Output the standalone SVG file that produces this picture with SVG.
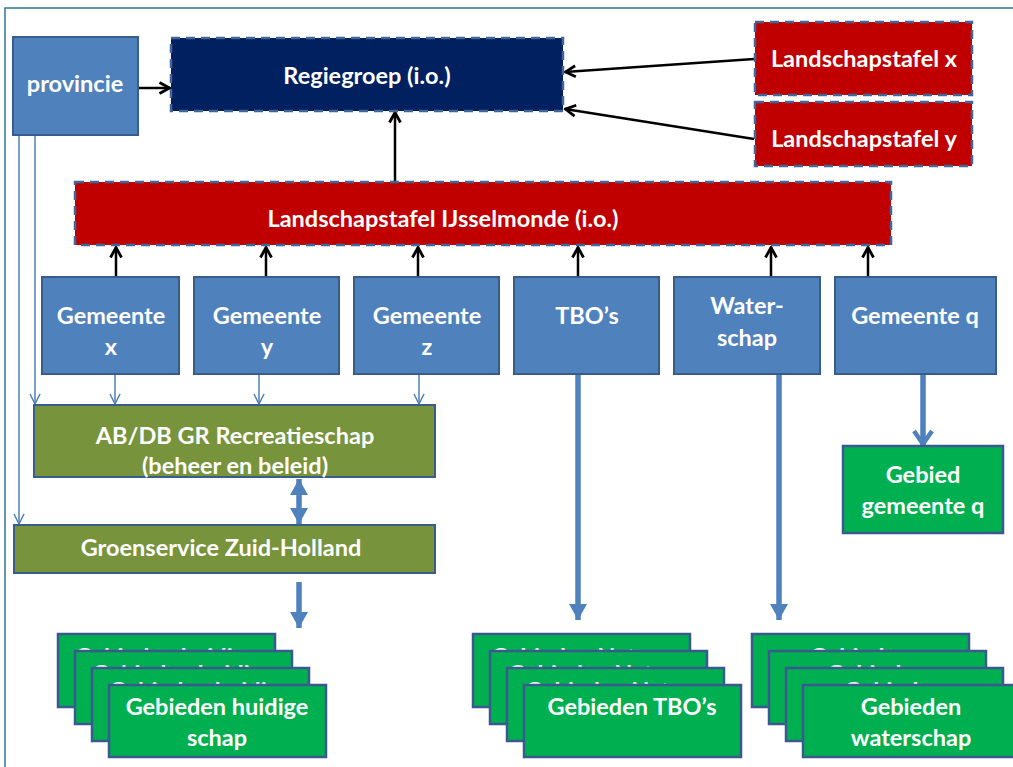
<svg xmlns="http://www.w3.org/2000/svg" width="1013" height="767" viewBox="0 0 1013 767">
<defs>
<style>
.t{font-family:Lato,"Open Sans","Liberation Sans",sans-serif;font-weight:bold;fill:#fff;font-size:23.5px;text-anchor:middle}
.blue{fill:#4f81bd;stroke:#385d8a;stroke-width:2}
.dash{stroke:#41679a;stroke-width:2.5;stroke-dasharray:9 6}
.navy{fill:#002060}
.red{fill:#c00000}
.olive{fill:#77933c;stroke:#385d8a;stroke-width:2}
.green{fill:#00b050;stroke:#3a5a8f;stroke-width:2.5}
.blk{stroke:#000;stroke-width:2.5;fill:none}
.thin{stroke:#4f81bd;stroke-width:1.5;fill:none}
.thick{stroke:#4f81bd;stroke-width:5.5;fill:none}
</style>
<marker id="ab" viewBox="0 0 14 14" refX="12.5" refY="7" markerWidth="14" markerHeight="14" markerUnits="userSpaceOnUse" orient="auto"><path d="M2,1.5 L12,7 L2,12.5" fill="none" stroke="#000" stroke-width="2.8"/></marker>
<marker id="at" viewBox="0 0 12 12" refX="11" refY="6" markerWidth="12" markerHeight="12" markerUnits="userSpaceOnUse" orient="auto"><path d="M1,1 L11,6 L1,11" fill="none" stroke="#4f81bd" stroke-width="1.5"/></marker>
<marker id="aq" viewBox="0 0 18 22" refX="16" refY="11" markerWidth="18" markerHeight="22" markerUnits="userSpaceOnUse" orient="auto"><path d="M2,2 L15,11 L2,20" fill="none" stroke="#4f81bd" stroke-width="4.5"/></marker>
<marker id="af" viewBox="0 0 16 18" refX="16" refY="9" markerWidth="16" markerHeight="18" markerUnits="userSpaceOnUse" orient="auto"><path d="M0,0 L16,9 L0,18 Z" fill="#4f81bd"/></marker>
<marker id="afs" viewBox="0 0 16 18" refX="0" refY="9" markerWidth="16" markerHeight="18" markerUnits="userSpaceOnUse" orient="auto"><path d="M16,0 L0,9 L16,18 Z" fill="#4f81bd"/></marker>
</defs>
<rect width="1013" height="767" fill="#fff"/>
<path d="M5,767 V8 H1013" fill="none" stroke="#2f7596" stroke-width="1.5"/>

<g id="connectors">
<line class="blk" x1="138" y1="88" x2="170" y2="88" marker-end="url(#ab)"/>
<line class="blk" x1="754" y1="59" x2="565" y2="72" marker-end="url(#ab)"/>
<line class="blk" x1="754" y1="139" x2="565" y2="109" marker-end="url(#ab)"/>
<line class="blk" x1="395" y1="182" x2="395" y2="112" marker-end="url(#ab)"/>
<line class="blk" x1="116" y1="277" x2="116" y2="247" marker-end="url(#ab)"/>
<line class="blk" x1="266" y1="277" x2="266" y2="247" marker-end="url(#ab)"/>
<line class="blk" x1="418" y1="277" x2="418" y2="247" marker-end="url(#ab)"/>
<line class="blk" x1="578" y1="277" x2="578" y2="247" marker-end="url(#ab)"/>
<line class="blk" x1="771" y1="277" x2="771" y2="247" marker-end="url(#ab)"/>
<line class="blk" x1="868" y1="277" x2="868" y2="247" marker-end="url(#ab)"/>
<line class="thin" x1="35" y1="135" x2="35" y2="404" marker-end="url(#at)"/>
<line class="thin" x1="19" y1="135" x2="19" y2="524" marker-end="url(#at)"/>
<line class="thin" x1="115" y1="374" x2="115" y2="404" marker-end="url(#at)"/>
<line class="thin" x1="259" y1="374" x2="259" y2="404" marker-end="url(#at)"/>
<line class="thin" x1="419" y1="374" x2="419" y2="404" marker-end="url(#at)"/>
<line class="thick" x1="299" y1="479" x2="299" y2="524" marker-start="url(#afs)" marker-end="url(#af)"/>
<line class="thick" x1="299" y1="582" x2="299" y2="628" marker-end="url(#af)"/>
<line class="thick" x1="578" y1="374" x2="578" y2="620" marker-end="url(#af)"/>
<line class="thick" x1="779" y1="374" x2="779" y2="620" marker-end="url(#af)"/>
<line class="thick" x1="923" y1="374" x2="923" y2="445" marker-end="url(#aq)"/>
</g>

<g id="provincie"><rect class="blue" x="13" y="37" width="125" height="98"/><text class="t" x="75" y="92">provincie</text></g>
<g id="regiegroep"><rect class="navy dash" x="171" y="38" width="392" height="73"/><text class="t" x="367" y="84">Regiegroep (i.o.)</text></g>
<g id="landschapstafel-x"><rect class="red dash" x="755" y="22" width="217" height="73"/><text class="t" x="864" y="67">Landschapstafel x</text></g>
<g id="landschapstafel-y"><rect class="red dash" x="755" y="102" width="217" height="64"/><text class="t" x="864" y="147">Landschapstafel y</text></g>
<g id="landschapstafel-ijsselmonde"><rect class="red dash" x="75" y="182" width="816" height="63"/><text class="t" x="443" y="227">Landschapstafel IJsselmonde (i.o.)</text></g>

<g id="gemeente-x"><rect class="blue" x="42" y="277" width="137" height="97"/><text class="t" x="111" y="324">Gemeente</text><text class="t" x="111" y="355">x</text></g>
<g id="gemeente-y"><rect class="blue" x="194" y="277" width="145" height="97"/><text class="t" x="267" y="324">Gemeente</text><text class="t" x="267" y="355">y</text></g>
<g id="gemeente-z"><rect class="blue" x="354" y="277" width="145" height="97"/><text class="t" x="427" y="324">Gemeente</text><text class="t" x="427" y="355">z</text></g>
<g id="tbos"><rect class="blue" x="514" y="277" width="145" height="97"/><text class="t" x="587" y="324">TBO’s</text></g>
<g id="waterschap"><rect class="blue" x="674" y="277" width="146" height="97"/><text class="t" x="747" y="314">Water-</text><text class="t" x="747" y="346">schap</text></g>
<g id="gemeente-q"><rect class="blue" x="835" y="277" width="161" height="97"/><text class="t" x="915" y="324">Gemeente q</text></g>

<g id="abdb"><rect class="olive" x="34" y="405" width="401" height="72"/><text class="t" x="235" y="444">AB/DB GR Recreatieschap</text><text class="t" x="235" y="474">(beheer en beleid)</text></g>
<g id="groenservice"><rect class="olive" x="14" y="525" width="421" height="48"/><text class="t" x="221" y="556">Groenservice Zuid-Holland</text></g>
<g id="gebied-gemeente-q"><rect class="green" x="843" y="446" width="160" height="87"/><text class="t" x="923" y="483">Gebied</text><text class="t" x="923" y="514">gemeente q</text></g>

<g id="gebieden-huidige-schap">
<rect class="green" x="58" y="634" width="217" height="73"/><text class="t" x="166" y="665">Gebieden huidige</text>
<rect class="green" x="75" y="651" width="217" height="73"/><text class="t" x="183" y="682">Gebieden huidige</text>
<rect class="green" x="92" y="668" width="217" height="73"/><text class="t" x="200" y="699">Gebieden huidige</text>
<rect class="green" x="109" y="685" width="217" height="72"/><text class="t" x="217" y="715">Gebieden huidige</text><text class="t" x="217" y="746">schap</text>
</g>
<g id="gebieden-tbos">
<rect class="green" x="473" y="634" width="217" height="73"/><text class="t" x="581" y="665">Gebieden Natuur</text>
<rect class="green" x="490" y="651" width="217" height="73"/><text class="t" x="598" y="682">Gebieden Natuur</text>
<rect class="green" x="507" y="668" width="217" height="73"/><text class="t" x="615" y="699">Gebieden Natuur</text>
<rect class="green" x="524" y="685" width="217" height="72"/><text class="t" x="632" y="715">Gebieden TBO’s</text>
</g>
<g id="gebieden-waterschap">
<rect class="green" x="752" y="634" width="217" height="73"/><text class="t" x="860" y="665">Gebieden</text>
<rect class="green" x="769" y="651" width="217" height="73"/><text class="t" x="877" y="682">Gebieden</text>
<rect class="green" x="786" y="668" width="217" height="73"/><text class="t" x="894" y="699">Gebieden</text>
<rect class="green" x="803" y="685" width="217" height="72"/><text class="t" x="911" y="715">Gebieden</text><text class="t" x="911" y="746">waterschap</text>
</g>
</svg>
